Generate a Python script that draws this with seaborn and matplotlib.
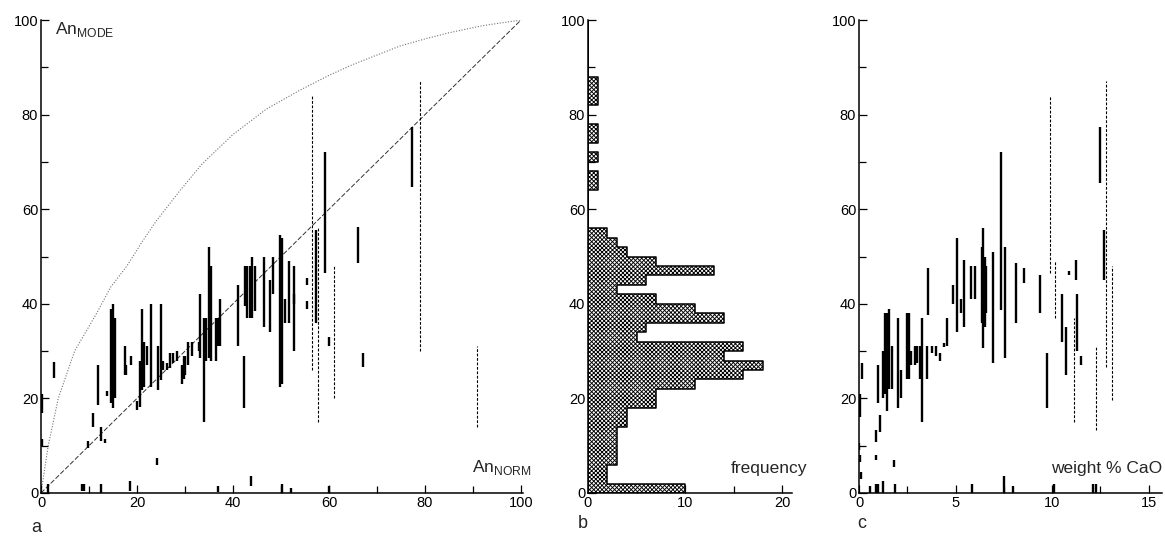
import matplotlib
matplotlib.use("Agg")
import matplotlib.pyplot as plt
import numpy as np
import pandas as pd
import seaborn as sns
from matplotlib.ticker import MultipleLocator

sns.set_theme(style="ticks")
plt.rcParams["font.family"] = ["Liberation Sans", "DejaVu Sans"]
plt.rcParams["mathtext.fontset"] = "custom"
plt.rcParams["mathtext.rm"] = "Liberation Sans"
plt.rcParams["hatch.linewidth"] = 0.65

# ---------------- panel a: An(mode) against An(norm) ----------------
a_x = [0.2, 0.2, 2.7, 9.8, 10.8, 11.8, 12.6, 13.3, 13.8, 14.6, 15.0, 15.5, 17.5, 17.8,
       18.7, 19.9, 20.6, 21.0, 21.5, 22.0, 23.0, 24.2, 24.4, 25.0, 25.5, 26.2, 26.9,
       27.6, 28.3, 29.3, 29.8, 30.0, 30.7, 31.4, 32.9, 33.1, 34.0, 34.4, 34.9, 35.5,
       36.4, 36.8, 37.3, 41.1, 42.3, 42.5, 43.0, 43.5, 44.0, 44.5, 46.5, 47.8, 48.3,
       49.7, 50.2, 50.8, 51.6, 52.7, 52.8, 55.5, 55.5, 57.3, 59.2, 59.9, 66.1, 67.0,
       77.2, 1.5, 8.5, 9.0, 12.6, 18.5, 36.8, 43.8, 50.3, 52.0, 60.0]
a_lo = [17, 10, 24.3, 9.5, 14, 18.5, 11, 10.5, 20.5, 19, 18, 20, 25, 25,
        27, 17.5, 18.2, 21.8, 22.5, 27, 22.5, 6, 21.8, 23.8, 26, 26, 26.5,
        27.5, 28, 23, 24, 25, 27, 29, 30, 28.5, 15, 28, 28.5, 28,
        28, 31, 31, 31, 18, 39.5, 37, 37, 37, 38.5, 35, 34, 42,
        22.5, 23, 36, 36, 40, 30, 39, 44, 36, 46.5, 31, 48.6, 26.6,
        64.7, 0, 0.5, 0.5, 0, 0.5, 0.3, 1.5, 0, 0, 0]
a_hi = [21, 11.5, 27.6, 11, 17, 27, 14, 11.5, 21.5, 39, 40, 37, 31, 27,
        29, 19.5, 28, 39, 32, 31, 39.9, 7.5, 31, 40, 28, 27.5, 29.5,
        29.5, 30, 27, 29, 29, 32, 32, 32, 42, 37, 37, 52, 48,
        37, 37, 41, 44, 29, 48, 48, 48, 50, 48, 50, 45, 50,
        54.5, 54, 41, 49, 48, 42, 40.5, 45.5, 55.6, 72, 33, 56.2, 29.6,
        77.4, 2, 2, 2, 2, 2.5, 1.5, 3.5, 2, 1, 1.5]
a_dash_x = [56.4, 57.8, 61.1, 79.0, 90.8]
a_dash_lo = [26, 15, 20, 30, 14]
a_dash_hi = [84, 56, 48, 87, 31]

diag_x = [0, 100]
diag_y = [0, 100]
curve_x = [0, 1.5, 3.6, 7, 11.6, 14.5, 17.9, 21, 24, 29, 33.5, 40, 47, 54, 60, 65,
           70, 74.8, 80, 85, 92, 100]
curve_y = [0, 10, 20, 30, 38, 43.5, 48, 53, 57.5, 64, 69.5, 75.8, 81.2, 85.2, 88.3,
           90.6, 92.6, 94.5, 96, 97.3, 98.8, 100]

# ---------------- panel b: frequency of An(mode), 2 % classes ----------------
bin_lower = [0, 2, 4, 6, 8, 10, 12, 14, 16, 18, 20, 22, 24, 26, 28, 30, 32, 34, 36,
             38, 40, 42, 44, 46, 48, 50, 52, 54, 64, 66, 70, 74, 76, 82, 84, 86]
bin_count = [10, 2, 2, 3, 3, 3, 3, 4, 4, 7, 7, 11, 16, 18, 14, 16, 5, 6, 14,
             11, 7, 3, 6, 13, 7, 4, 3, 2, 1, 1, 1, 1, 1, 1, 1, 1]

# ---------------- panel c: An(mode) against weight % CaO ----------------
c_x = [0.05, 0.14, 0.0, 0.05, 0.1, 0.88, 1.0, 1.1, 1.25, 1.33, 1.43, 1.57, 1.7, 0.9,
       1.8, 2.0, 2.2, 2.47, 2.6, 2.7, 2.9, 3.0, 3.15, 3.25, 3.5, 3.6, 3.8, 4.0, 4.2,
       4.4, 4.54, 4.85, 5.1, 5.3, 5.45, 5.8, 6.0, 6.35, 6.45, 6.55, 6.6, 6.95, 7.36,
       7.57, 8.13, 8.55, 9.4, 9.72, 10.5, 10.7, 10.9, 11.24, 11.3, 11.5, 12.49, 12.7,
       0.57, 0.9, 1.0, 1.25, 1.85, 5.85, 7.5, 8.0, 10.1, 12.1, 12.3]
c_lo = [16, 24, 9, 6.5, 3, 10.8, 19, 13, 20, 21, 17.3, 22, 22, 7,
        5.5, 18, 20, 24, 24, 27, 27, 27.5, 24, 15, 24, 37.6, 29.5, 29, 28,
        30.8, 31, 40, 34, 38, 35, 41, 41, 36, 30.6, 35, 38, 27.4, 38.7,
        28.5, 36, 44.5, 38, 18, 32, 25, 46, 45, 30, 27, 65.5, 45,
        0, 0, 0, 0, 0, 0, 0, 0, 0, 0, 0]
c_hi = [21, 27.5, 10.5, 8, 4.5, 13.3, 27, 16.5, 30, 38, 38, 39, 31, 8,
        7, 37, 26, 38, 38, 30, 31, 31, 31, 37, 31, 47.6, 31, 31, 29.5,
        31.8, 37, 44, 54, 41, 49.2, 48, 48, 52, 56, 50, 48, 51, 72,
        52, 48.6, 47.5, 46, 29.5, 42, 35, 47, 49.3, 42, 29, 77.4, 55.6,
        1.5, 2, 2, 2.5, 2, 2, 3.5, 1.5, 2, 2, 2]
c_dash_x = [9.9, 10.16, 11.15, 12.27, 12.8, 13.1]
c_dash_lo = [46.5, 37, 15, 13.3, 26.6, 19.6]
c_dash_hi = [84, 49, 37, 31, 87, 48]


def segment_frame(xs, lo, hi):
    rows = []
    for i, (x, y0, y1) in enumerate(zip(xs, lo, hi)):
        rows.append((i, x, y0))
        rows.append((i, x, y1))
    return pd.DataFrame(rows, columns=["seg", "x", "y"])


def draw_ranges(ax, xs, lo, hi, dashed=False):
    df = segment_frame(xs, lo, hi)
    if dashed:
        sns.lineplot(data=df, x="x", y="y", units="seg", estimator=None, sort=False,
                     color="black", lw=0.8, linestyle=(0, (2.5, 1.5)), ax=ax)
    else:
        sns.lineplot(data=df, x="x", y="y", units="seg", estimator=None, sort=False,
                     color="black", lw=1.7, solid_capstyle="butt", ax=ax)


def style_axes(ax, xmax, xmajor, xminor):
    ax.set_xlim(0, xmax)
    ax.set_ylim(0, 100)
    sns.despine(ax=ax)
    for s in ("left", "bottom"):
        ax.spines[s].set_linewidth(1.1)
        ax.spines[s].set_color("black")
    ax.xaxis.set_major_locator(MultipleLocator(xmajor))
    ax.xaxis.set_minor_locator(MultipleLocator(xminor))
    ax.yaxis.set_major_locator(MultipleLocator(20))
    ax.yaxis.set_minor_locator(MultipleLocator(10))
    ax.tick_params(which="both", direction="in", color="black", width=0.9,
                   labelsize=10.5, labelcolor="black", pad=2)
    ax.tick_params(which="major", length=6)
    ax.tick_params(which="minor", length=5)
    ax.set_xlabel("")
    ax.set_ylabel("")
    ax.grid(False)


W, H = 1165, 537
fig = plt.figure(figsize=(W / 100, H / 100), dpi=100)
bottom = (H - 493) / H
height = (493 - 20) / H

ax_a = fig.add_axes([41 / W, bottom, 4.8 * 100.5 / W, height])
ax_b = fig.add_axes([588 / W, bottom, 9.7 * 21 / W, height])
ax_c = fig.add_axes([859 / W, bottom, 19.3 * 15.7 / W, height])

# panel a
sns.lineplot(x=curve_x, y=curve_y, color="0.45", lw=0.8, linestyle=(0, (1, 1.5)),
             sort=False, ax=ax_a)
sns.lineplot(x=diag_x, y=diag_y, color="0.2", lw=0.7, linestyle=(0, (5, 2)),
             sort=False, ax=ax_a)
draw_ranges(ax_a, a_x, a_lo, a_hi)
draw_ranges(ax_a, a_dash_x, a_dash_lo, a_dash_hi, dashed=True)
style_axes(ax_a, 100.5, 20, 10)
ax_a.text(3, 98, r"An$_{\mathrm{MODE}}$", fontsize=12.5, va="center", ha="left")
ax_a.text(102.3, 4.4, r"An$_{\mathrm{NORM}}$", fontsize=12.5, va="baseline", ha="right")

# panel b
hist_mid = [b + 1 for b in bin_lower]
sns.histplot(y=hist_mid, weights=bin_count, binwidth=2, binrange=(0, 100),
             element="step", fill=True, ax=ax_b)
for coll in ax_b.collections:
    coll.set_facecolor("white")
    coll.set_edgecolor("black")
    coll.set_linewidth(1.1)
    coll.set_hatch("xxxxxxxx")
    coll.set_alpha(1)
for ln in ax_b.lines:
    ln.set_color("black")
style_axes(ax_b, 21, 10, 5)
ax_b.text(22.6, 4.2, "frequency", fontsize=12.5, va="baseline", ha="right")

# panel c
draw_ranges(ax_c, c_x, c_lo, c_hi)
draw_ranges(ax_c, c_dash_x, c_dash_lo, c_dash_hi, dashed=True)
style_axes(ax_c, 15.7, 5, 2.5)
ax_c.text(15.7, 4.2, "weight % CaO", fontsize=12.5, va="baseline", ha="right")

for label, px, py in (("a", 36, 528), ("b", 583, 524), ("c", 862, 524)):
    fig.text(px / W, 1 - py / H, label, fontsize=13, ha="center", va="center")

fig.savefig("out.png", dpi=100)
